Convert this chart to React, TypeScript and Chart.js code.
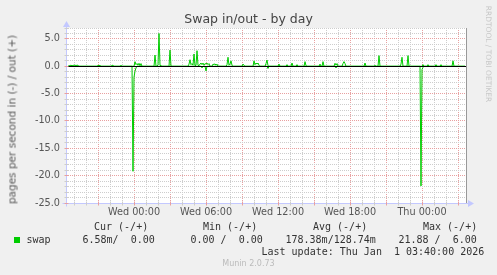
import React, { useEffect, useRef } from 'react';
import { Chart, registerables } from 'chart.js';

Chart.register(...registerables);

// time axis in minutes relative to Wed 00:00
const xMin = -340;
const xMax = 1660;
const yMin = -25;
const yMax = 7;
const xLabelMinutes = [0, 360, 720, 1080, 1440];
const xLabelTexts = ['Wed 00:00', 'Wed 06:00', 'Wed 12:00', 'Wed 18:00', 'Thu 00:00'];

// swap out (+)
const outMinutes = [
  -330, -315, -310, -300, -290, -280, -275, -185, -180, -175, -170, -165, -115, -110, -105, -100,
  -70, -65, -60, 0, 5, 10, 15, 20, 25, 30, 35, 40, 100, 105, 110, 115, 120, 125, 130, 135, 140,
  175, 180, 185, 270, 275, 280, 285, 290, 295, 300, 305, 310, 315, 320, 325, 330, 335, 340, 345,
  350, 355, 360, 365, 370, 375, 380, 390, 395, 400, 405, 410, 415, 420, 460, 465, 470, 475, 480,
  485, 490, 495, 540, 545, 550, 555, 595, 600, 605, 610, 615, 620, 625, 630, 655, 660, 665, 670,
  675, 720, 725, 730, 760, 765, 770, 785, 790, 795, 810, 815, 820, 850, 855, 860, 865, 925, 930,
  935, 940, 945, 950, 1000, 1005, 1010, 1015, 1020, 1040, 1045, 1050, 1055, 1060, 1150, 1155,
  1160, 1200, 1205, 1210, 1220, 1225, 1230, 1330, 1335, 1340, 1345, 1365, 1370, 1375, 1440, 1445,
  1450, 1465, 1470, 1475, 1505, 1510, 1515, 1530, 1535, 1540, 1590, 1595, 1600, 1655,
];
const outValues = [
  0, 0.2, 0.1, 0.2, 0.15, 0.2, 0, 0, 0.2, 0.1, 0.2, 0, 0, 0.2, 0.15, 0,
  0, 0.2, 0, 0, 0.85, 0.3, 0.5, 0.2, 0.55, 0.1, 0.5, 0, 0, 2.05, 0, 0, 0.3, 6.0, 0.2, 0.1, 0,
  0, 2.95, 0, 0, 0.4, 1.2, 0.3, 0.5, 0.2, 2.25, 0.1, 0.2, 2.85, 0.2, 0.1, 0.4, 0.6, 0.3, 0.6,
  0.2, 0.5, 0.4, 0.6, 0.3, 0.5, 0, 0, 0.4, 0.3, 0.45, 0.2, 0.4, 0, 0, 0.3, 1.65, 0.2, 0.4,
  1.0, 0.2, 0, 0, 0.4, 0.2, 0, 0, 1.0, 0.3, 0.6, 0.4, 0.6, 0.2, 0, 0, 0.5, 1.15, 0.1,
  0, 0, 0.4, 0, 0, 0.3, 0, 0, 0.6, 0, 0, 0.3, 0, 0, 0.85, 0.1, 0, 0, 0.4,
  0, 0, 0.85, 0, 0, 0.55, 0.2, 0.5, 0, 0, 0.5, 0.85, 0.5, 0, 0, 0.6,
  0, 0, 0.2, 0, 0, 1.95, 0, 0, 0.4, 1.65, 0, 0, 1.95, 0, 0, 0.3,
  0, 0, 0.3, 0, 0, 0.3, 0, 0, 0.3, 0, 0, 1.0, 0, 0,
];

// swap in (-)
const inMinutes = [
  -330, -10, -5, 0, 5, 10, 15, 335, 340, 345, 355, 360, 365, 665, 670, 675, 1005, 1010, 1015,
  1430, 1435, 1440, 1445, 1450, 1655,
];
const inValues = [
  0, 0, -19.2, -2.0, -0.9, -0.3, 0, 0, -0.3, 0, 0, -0.85, 0, 0, -0.4, 0, 0, -0.3, 0,
  0, -21.88, -0.6, -0.2, 0, 0,
];

const legendHeaders = ['Cur (-/+)', 'Min (-/+)', 'Avg (-/+)', 'Max (-/+)'];
const legendValues = ['6.58m/  0.00', '0.00 /  0.00', '178.38m/128.74m', '21.88 /  6.00'];
const seriesName = 'swap';
const lastUpdate = 'Last update: Thu Jan  1 03:40:00 2026';

const GREEN = '#00cc00';
const MINOR = 'rgb(205,205,205)';
const MAJOR = 'rgb(232,160,160)';
const AXIS = 'rgb(195,200,255)';

const muninPlugin = {
  id: 'munin',
  beforeDraw(chart: any) {
    const { ctx, chartArea: a } = chart;
    ctx.save();
    ctx.fillStyle = '#ffffff';
    ctx.fillRect(a.left, a.top, a.right - a.left, a.bottom - a.top);
    ctx.restore();
  },
  beforeDatasetsDraw(chart: any) {
    const { ctx, chartArea: a, scales } = chart;
    ctx.save();
    ctx.lineWidth = 1;
    ctx.setLineDash([1, 1]);
    for (const t of scales.x.ticks) {
      const px = Math.round(scales.x.getPixelForValue(t.value)) + 0.5;
      ctx.strokeStyle = t.value % 180 === 0 ? MAJOR : MINOR;
      ctx.beginPath();
      ctx.moveTo(px, a.top);
      ctx.lineTo(px, a.bottom);
      ctx.stroke();
    }
    for (const t of scales.y.ticks) {
      const py = Math.round(scales.y.getPixelForValue(t.value) - 0.5) + 0.5;
      ctx.strokeStyle = t.value % 5 === 0 ? MAJOR : MINOR;
      ctx.beginPath();
      ctx.moveTo(a.left, py);
      ctx.lineTo(a.right, py);
      ctx.stroke();
    }
    ctx.restore();
  },
  afterDatasetsDraw(chart: any) {
    const { ctx, chartArea: a, scales } = chart;
    ctx.save();
    // zero line
    const y0 = Math.round(scales.y.getPixelForValue(0) - 0.5) + 0.5;
    ctx.strokeStyle = '#000';
    ctx.lineWidth = 1;
    ctx.beginPath();
    ctx.moveTo(a.left, y0);
    ctx.lineTo(a.right, y0);
    ctx.stroke();
    // right frame line
    const xr = Math.round(a.right) + 0.5;
    ctx.strokeStyle = '#999';
    ctx.beginPath();
    ctx.moveTo(xr, a.top);
    ctx.lineTo(xr, a.bottom);
    ctx.stroke();
    // axes
    const xl = Math.round(a.left) + 0.5;
    const yb = Math.round(a.bottom) + 0.5;
    ctx.strokeStyle = AXIS;
    ctx.fillStyle = AXIS;
    ctx.beginPath();
    ctx.moveTo(xl, yb + 3);
    ctx.lineTo(xl, a.top - 5);
    ctx.moveTo(xl - 4, yb);
    ctx.lineTo(a.right + 4, yb);
    ctx.stroke();
    ctx.beginPath();
    ctx.moveTo(xl - 3.5, a.top - 1);
    ctx.lineTo(xl + 3.5, a.top - 1);
    ctx.lineTo(xl, a.top - 7);
    ctx.closePath();
    ctx.fill();
    ctx.beginPath();
    ctx.moveTo(a.right + 2, yb - 3.5);
    ctx.lineTo(a.right + 2, yb + 3.5);
    ctx.lineTo(a.right + 8, yb);
    ctx.closePath();
    ctx.fill();
    // axis tick marks
    for (const t of scales.x.ticks) {
      const px = Math.round(scales.x.getPixelForValue(t.value)) + 0.5;
      ctx.strokeStyle = t.value % 180 === 0 ? MAJOR : MINOR;
      ctx.beginPath();
      ctx.moveTo(px, yb - 2);
      ctx.lineTo(px, yb + 2);
      ctx.stroke();
    }
    for (const t of scales.y.ticks) {
      const py = Math.round(scales.y.getPixelForValue(t.value) - 0.5) + 0.5;
      ctx.strokeStyle = t.value % 5 === 0 ? MAJOR : MINOR;
      ctx.beginPath();
      ctx.moveTo(xl - 2, py);
      ctx.lineTo(xl + 2, py);
      ctx.stroke();
    }
    ctx.restore();
  },
};

export default function App() {
  const ref = useRef<HTMLCanvasElement | null>(null);

  useEffect(() => {
    document.body.style.margin = '0';
    const canvas = ref.current;
    if (!canvas) return;
    const outData = outMinutes.map((m, i) => ({ x: m, y: outValues[i] }));
    const inData = inMinutes.map((m, i) => ({ x: m, y: inValues[i] }));
    const tickFont = { family: 'DejaVu Sans', size: 9.7 };
    const chart = new Chart(canvas, {
      type: 'line',
      data: {
        datasets: [
          { label: 'swap in', data: inData, borderColor: GREEN, borderWidth: 1, pointRadius: 0, tension: 0, fill: false },
          { label: 'swap out', data: outData, borderColor: GREEN, borderWidth: 1, pointRadius: 0, tension: 0, fill: false },
        ],
      },
      options: {
        responsive: false,
        animation: false,
        events: [],
        layout: { padding: { top: 28, right: 31, bottom: 52, left: 0 } },
        plugins: { legend: { display: false }, tooltip: { enabled: false }, title: { display: false } },
        scales: {
          x: {
            type: 'linear',
            min: xMin,
            max: xMax,
            afterBuildTicks: (s: any) => {
              const ticks = [];
              for (let m = Math.ceil(xMin / 60) * 60; m <= xMax; m += 60) ticks.push({ value: m });
              s.ticks = ticks;
            },
            afterFit: (s: any) => { s.height = 20; },
            grid: { display: false, drawTicks: false },
            border: { display: false },
            ticks: {
              autoSkip: false,
              maxRotation: 0,
              minRotation: 0,
              padding: 4,
              color: '#555',
              font: tickFont,
              callback: (v: any) => {
                const i = xLabelMinutes.indexOf(Number(v));
                return i >= 0 ? xLabelTexts[i] : '';
              },
            },
          },
          y: {
            type: 'linear',
            min: yMin,
            max: yMax,
            afterFit: (s: any) => { s.width = 66; },
            grid: { display: false, drawTicks: false },
            border: { display: false },
            ticks: {
              stepSize: 1,
              autoSkip: false,
              padding: 6,
              color: '#555',
              font: tickFont,
              callback: (v: any) => (Number(v) % 5 === 0 ? Number(v).toFixed(1) : ''),
            },
          },
        },
      },
      plugins: [muninPlugin],
    } as any);
    return () => chart.destroy();
  }, []);

  const mono: React.CSSProperties = {
    position: 'absolute',
    fontFamily: '"DejaVu Sans Mono", monospace',
    fontSize: '10px',
    lineHeight: '12px',
    color: '#333',
    whiteSpace: 'pre',
  };
  const headerLefts = [94, 203, 313, 423];
  const valueLefts = [82.5, 190.5, 285.5, 398.5];

  return (
    <div style={{ position: 'relative', width: 497, height: 275, background: '#f0f0f0', overflow: 'hidden' }}>
      <canvas ref={ref} width={497} height={275} style={{ position: 'absolute', left: 0, top: 0, width: 497, height: 275 }} />
      <div style={{ position: 'absolute', left: 0, top: 11, width: 497, textAlign: 'center', fontFamily: '"DejaVu Sans", sans-serif', fontSize: '12.5px', lineHeight: '15px', color: '#444' }}>
        Swap in/out - by day
      </div>
      <div style={{ position: 'absolute', left: 11.7 - 100, top: 119 - 6.5, width: 200, height: 13, textAlign: 'center', fontFamily: '"DejaVu Sans", sans-serif', fontSize: '10.5px', lineHeight: '13px', color: '#5a5a5a', transform: 'rotate(-90deg)', whiteSpace: 'nowrap' }}>
        pages per second in (-) / out (+)
      </div>
      <div style={{ position: 'absolute', left: 487.5 - 60, top: 53.5 - 5, width: 120, height: 10, textAlign: 'center', fontFamily: '"DejaVu Sans", sans-serif', fontSize: '7.5px', lineHeight: '10px', color: '#c8c8c8', transform: 'rotate(90deg)', whiteSpace: 'nowrap' }}>
        RRDTOOL / TOBI OETIKER
      </div>
      {legendHeaders.map((h, i) => (
        <div key={'h' + i} style={{ ...mono, left: headerLefts[i], top: 221.3 }}>{h}</div>
      ))}
      <div style={{ position: 'absolute', left: 14, top: 237, width: 6, height: 6, background: GREEN }} />
      <div style={{ ...mono, left: 26.5, top: 234 }}>{seriesName}</div>
      {legendValues.map((v, i) => (
        <div key={'v' + i} style={{ ...mono, left: valueLefts[i], top: 234 }}>{v}</div>
      ))}
      <div style={{ ...mono, left: 261.5, top: 245.7 }}>{lastUpdate}</div>
      <div style={{ position: 'absolute', left: 0, top: 259, width: 497, textAlign: 'center', fontFamily: '"DejaVu Sans", sans-serif', fontSize: '8px', lineHeight: '10px', color: '#bbb' }}>
        Munin 2.0.73
      </div>
    </div>
  );
}
